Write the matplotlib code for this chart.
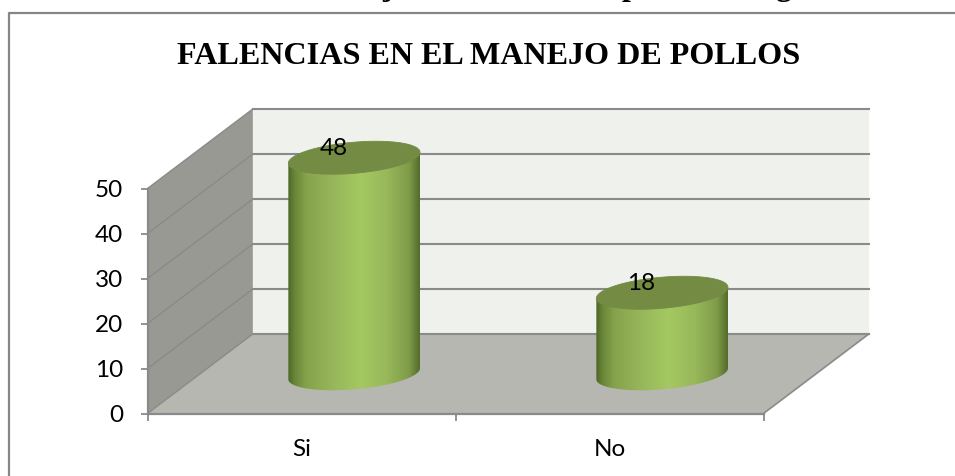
import numpy as np
import matplotlib
matplotlib.use("Agg")
import matplotlib.pyplot as plt
from matplotlib.colors import LinearSegmentedColormap
from matplotlib.lines import Line2D
from matplotlib.patches import Polygon

# Data
categories = ["Si", "No"]
values = [48, 18]
y_ticks = [0, 10, 20, 30, 40, 50]

# Colours
line_col = "#8a8a8a"
back_col = "#eff2ec"
wall_col = "#979992"
floor_col = "#b5b7b0"
top_col = "#748b43"
body_stops = [(0.0, "#4d6726"), (0.05, "#6a8638"), (0.14, "#86a34c"), (0.35, "#98b75a"),
              (0.55, "#a4c862"), (0.75, "#98b85a"), (0.92, "#7f9b48"), (1.0, "#526c2a")]

# Fake 3D: how far the back plane is shifted, in axis units
depth_x = 0.342
depth_y = 17.67
# Cylinder ellipse half sizes, in axis units
rad_x = 0.2016
rad_frac = 0.2075

fig = plt.figure(figsize=(9.55, 4.76), dpi=100)
fig.patch.set_facecolor("white")
ax = fig.add_axes([147.5 / 955, (476 - 413.5) / 476, 616 / 955, 225 / 476])
ax.set_xlim(0, 2)
ax.set_ylim(0, 50)
ax.patch.set_visible(False)


# Walls and floor
def poly(pts, col, z):
    p = Polygon(pts, closed=True, facecolor=col, edgecolor="none", zorder=z, clip_on=False)
    ax.add_patch(p)


poly([(depth_x, depth_y), (2 + depth_x, depth_y), (2 + depth_x, 50 + depth_y), (depth_x, 50 + depth_y)], back_col, 1)
poly([(0, 0), (depth_x, depth_y), (depth_x, 50 + depth_y), (0, 50)], wall_col, 1)
poly([(0, 0), (2, 0), (2 + depth_x, depth_y), (depth_x, depth_y)], floor_col, 1)

# Gridlines on back plane and side wall
for v in y_ticks:
    ax.plot([depth_x, 2 + depth_x], [v + depth_y, v + depth_y], color=line_col, lw=1.5, zorder=2, clip_on=False)
    ax.plot([0, depth_x], [v, v + depth_y], color=line_col, lw=1.0, zorder=2, clip_on=False)
ax.plot([2, 2 + depth_x], [0, depth_y], color=line_col, lw=1.2, zorder=2, clip_on=False)

# Cylinders
t = np.linspace(0, 2 * np.pi, 241)
cmap = LinearSegmentedColormap.from_list("cyl", body_stops)
for i, val in enumerate(values):
    cx = i + 0.5 + depth_x / 2
    cy = depth_y / 2
    ex = rad_x * np.cos(t) + rad_frac * depth_x * np.sin(t)
    ey = rad_frac * depth_y * np.sin(t)
    left = np.argmin(ex)
    right = np.argmax(ex)
    half_w = ex[right]

    # outline: bottom ellipse and the top ellipse moved up by the value
    order = np.roll(np.arange(240), -left)
    ex2, ey2 = ex[order], ey[order]
    k = int(np.argmax(ex2))
    # from left extreme going over the top to the right is the first part of t order
    if ey2[k // 2] > 0:
        front = np.r_[ex2[k:], ex2[0]], np.r_[ey2[k:], ey2[0]]
    else:
        front = ex2[:k + 1][::-1], ey2[:k + 1][::-1]
    px = np.r_[cx + front[0], cx + ex2[0], cx + ex2[k]]
    py = np.r_[cy + front[1], cy + val + ey2[0], cy + val + ey2[k]]
    body = Polygon(np.c_[px, py], closed=True, facecolor="none", edgecolor="none", zorder=3, clip_on=False)
    ax.add_patch(body)
    im = ax.imshow(np.linspace(0, 1, 256)[None, :], cmap=cmap, aspect="auto", vmin=0, vmax=1,
                   extent=[cx - half_w, cx + half_w, cy - 6, cy + val + 6], zorder=3, interpolation="bilinear")
    im.set_clip_box(fig.bbox)
    im.set_clip_path(body)

    ax.fill(cx + ex, cy + val + ey, color=top_col, lw=0.6, zorder=4, clip_on=False)
    ax.annotate(str(val), (cx, cy + val), xytext=(-15, 7), textcoords="offset points", ha="center", va="center",
                fontsize=17.5, family="Lato", color="black", zorder=5, annotation_clip=False)

ax.set_xlim(0, 2)
ax.set_ylim(0, 50)

# Axes
for s in ["top", "right"]:
    ax.spines[s].set_visible(False)
for s in ["left", "bottom"]:
    ax.spines[s].set_color(line_col)
    ax.spines[s].set_linewidth(1.6)
    ax.spines[s].set_zorder(2.5)
ax.set_yticks(y_ticks)
ax.set_xticks([0, 1, 2])
ax.set_xticklabels([])
ax.set_xticks([0.5, 1.5], minor=True)
ax.set_xticklabels(categories, minor=True, fontsize=17.5, family="Lato")
ax.tick_params(axis="x", which="minor", length=0, pad=18.5)
ax.tick_params(axis="both", which="major", length=5.2, width=1.3, color=line_col)
ax.tick_params(axis="y", labelsize=17.5, pad=12.5)
for lab in ax.get_yticklabels():
    lab.set_family("Lato")

# Frame of the chart area, cut by the image edge
fig.add_artist(Line2D([9 / 955, 9 / 955, 1], [0, 1 - 13 / 476, 1 - 13 / 476], color="#868686", lw=1.6))

# Title
fig.text(488.5 / 955, 1 - 64.5 / 476, "FALENCIAS EN EL MANEJO DE POLLOS", ha="center", va="baseline",
         fontsize=23.1, fontweight="bold", family="Liberation Serif", color="black")

# Descenders of the caption above the chart, cut off in the reference
for letter, xpos in [("j", 388), ("p", 630), ("g", 783)]:
    fig.text(xpos / 955, 1 + 5 / 476, letter, ha="center", va="baseline", fontsize=23.1,
             fontweight="bold", family="Liberation Serif", color="black")

fig.savefig("out.png", dpi=100)
